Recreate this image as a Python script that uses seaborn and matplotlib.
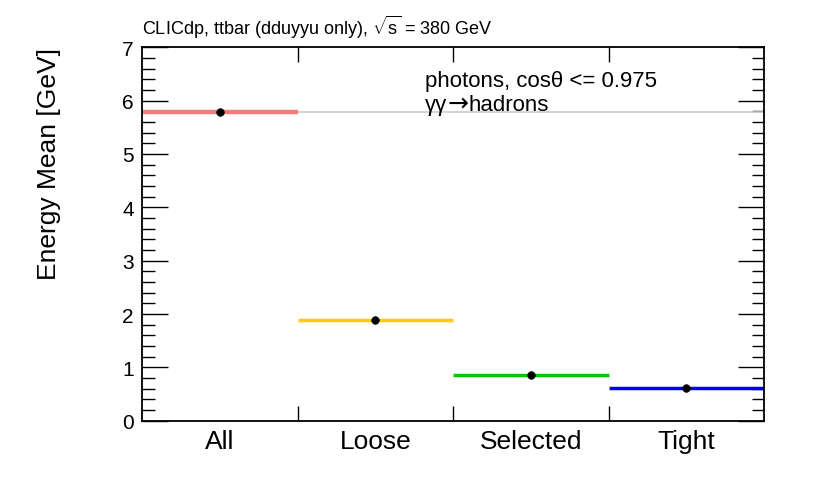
import matplotlib
matplotlib.use('Agg')
import matplotlib.pyplot as plt
import seaborn as sns
import pandas as pd
from matplotlib.ticker import MultipleLocator, FixedLocator


categories = ['All', 'Loose', 'Selected', 'Tight']
energy_mean = [5.78, 1.89, 0.85, 0.61]
colors = ['#f07c7c', '#ffcc00', '#00cc00', '#0000ee']

title_text = r'CLICdp, ttbar (dduyyu only), $\sqrt{s}$ = 380 GeV'
label_line1 = 'photons, cos\u03b8 <= 0.975'
label_parts = ['\u03b3\u03b3', '\u2192', 'hadrons']


def plot_means():
    df = pd.DataFrame({'Cut': categories, 'Mean': energy_mean})
    df['pos'] = range(len(df))

    sns.set_style('ticks')
    plt.rcParams['font.family'] = ['Liberation Sans', 'DejaVu Sans']
    plt.rcParams['mathtext.fontset'] = 'custom'
    plt.rcParams['mathtext.rm'] = 'Liberation Sans'
    plt.rcParams['mathtext.it'] = 'Liberation Sans'
    for key in ['text.color', 'axes.labelcolor', 'xtick.color', 'ytick.color']:
        plt.rcParams[key] = 'black'

    fig = plt.figure(figsize=(8.3, 4.85), dpi=100)
    ax = fig.add_axes([0.1711, 0.1305, 0.7494, 0.7699])

    # reference line at the first value
    ax.axhline(df['Mean'].iloc[0], color='#cccccc', lw=1.2, zorder=1)

    # one horizontal segment per cut, bin width 1
    lws = [3.2, 2.5, 2.5, 2.5]
    for i, row in df.iterrows():
        ax.hlines(row['Mean'], row['pos'] - 0.5, row['pos'] + 0.5,
                  color=colors[i], lw=lws[i], zorder=2)

    sns.scatterplot(data=df, x='pos', y='Mean', color='black', s=30,
                    edgecolor='black', linewidth=0.5, zorder=3, ax=ax)

    ax.set_xlim(-0.5, len(df) - 0.5)
    ax.set_ylim(0, 7)

    ax.xaxis.set_major_locator(FixedLocator(df['pos'].tolist()))
    ax.set_xticklabels(df['Cut'])
    ax.xaxis.set_minor_locator(FixedLocator([p + 0.5 for p in df['pos'][:-1]]))
    ax.yaxis.set_major_locator(MultipleLocator(1))
    ax.yaxis.set_minor_locator(MultipleLocator(0.2))

    ax.tick_params(axis='x', which='major', length=0, labelsize=19, pad=6)
    ax.tick_params(axis='x', which='minor', length=11, width=1.0,
                   direction='in', top=True, bottom=True)
    ax.tick_params(axis='y', which='major', length=19, width=1.0,
                   direction='in', left=True, right=True, labelsize=15, pad=6)
    ax.tick_params(axis='y', which='minor', length=9, width=1.0,
                   direction='in', left=True, right=True)

    for sp in ax.spines.values():
        sp.set_visible(True)
        sp.set_linewidth(1.3)
        sp.set_color('black')

    ax.set_xlabel('')
    ax.set_ylabel('Energy Mean [GeV]', fontsize=19)
    ax.yaxis.set_label_coords(-0.130, 0.69)

    ax.text(0.0, 1.02, title_text, transform=ax.transAxes, fontsize=13,
            ha='left', va='bottom')
    ax.text(0.455, 0.896, label_line1, transform=ax.transAxes, fontsize=16,
            ha='left', va='baseline')
    prev = ax.text(0.455, 0.833, label_parts[0], transform=ax.transAxes,
                   fontsize=16, ha='left', va='baseline')
    prev = ax.annotate(label_parts[1], xy=(1, 0), xycoords=prev,
                       xytext=(0, 0), textcoords='offset points',
                       fontsize=18, family='DejaVu Sans', ha='left', va='bottom')
    ax.annotate(label_parts[2], xy=(1, 0), xycoords=prev,
                xytext=(0, 0), textcoords='offset points',
                fontsize=16, ha='left', va='bottom')

    fig.savefig('out.png', dpi=100)


if __name__ == '__main__':
    plot_means()
